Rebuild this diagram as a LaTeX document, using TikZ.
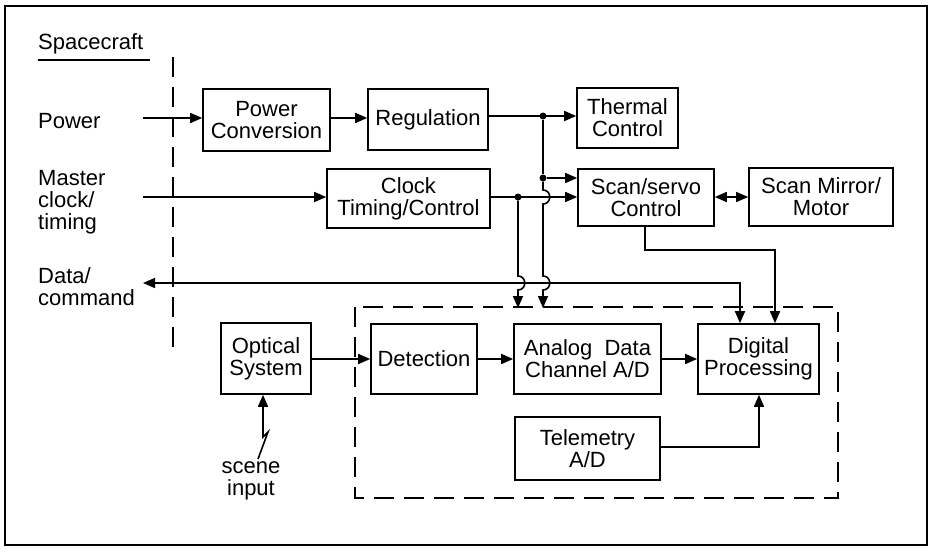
\documentclass[tikz,border=0pt]{standalone}
\usepackage{fontspec}
\setmainfont{Liberation Sans}
\usetikzlibrary{arrows.meta}
\begin{document}
\begin{tikzpicture}[x=1pt,y=-1pt,
  every node/.style={font=\fontsize{22}{22}\selectfont},
  blk/.style={draw,line width=1.6pt,inner sep=0pt,align=center},
  lbl/.style={inner sep=0pt,align=left,anchor=west},
  ln/.style={line width=1.6pt},
  arr/.style={ln,-{Triangle[length=12pt,width=10pt]}},
  darr/.style={ln,{Triangle[length=12pt,width=10pt]}-{Triangle[length=12pt,width=10pt]}},
  dsh/.style={line width=1.6pt,dash pattern=on 20pt off 10pt},
  dot/.style={circle,fill,inner sep=0pt,minimum size=7pt}]
\useasboundingbox (0,0) rectangle (930,552);
% outer frame
\draw[line width=1.3pt] (5,6) rectangle (927,545);
% spacecraft label and boundary
\node[lbl] (sc) at (38,44) {Spacecraft};
\draw[line width=1.6pt] (38,60) -- (150,60);
\draw[dsh] (173,57) -- (173,352);
\node[lbl] (lpow) at (38,121) {Power};
\node[lbl] (lclk) at (38,202) {Master\\clock/\\timing};
\node[lbl] (ldat) at (38,287) {Data/\\command};
% blocks
\node[blk,minimum width=127pt,minimum height=62pt] (pc) at (266.5,120) {Power\\Conversion};
\node[blk,minimum width=120pt,minimum height=61pt] (reg) at (428,119.5) {Regulation};
\node[blk,minimum width=101pt,minimum height=60pt] (therm) at (627.5,118) {Thermal\\Control};
\node[blk,minimum width=163pt,minimum height=59pt] (clock) at (408.5,198.5) {Clock\\Timing/Control};
\node[blk,minimum width=136pt,minimum height=57pt] (scan) at (646,197.5) {Scan/servo\\Control};
\node[blk,minimum width=144pt,minimum height=58pt] (mirror) at (821,197) {Scan Mirror/\\Motor};
\node[blk,minimum width=90pt,minimum height=71pt] (opt) at (266,358.5) {Optical\\System};
\node[blk,minimum width=106pt,minimum height=70pt] (det) at (424,359) {Detection};
\node[blk,minimum width=147pt,minimum height=70pt] (ana) at (587.5,359) {Analog\ \ Data\\Channel A/D};
\node[blk,minimum width=121pt,minimum height=70pt] (dig) at (758.5,359) {Digital\\Processing};
\node[blk,minimum width=145pt,minimum height=63pt] (tel) at (587.5,448.5) {Telemetry\\A/D};
% inner dashed box
\draw[dsh] (355,307) rectangle (838,498);
% free ends and junctions
\coordinate (pin) at (143,118);
\coordinate (cin) at (143,197);
\coordinate (dout) at (143,283);
\node[dot] (j1) at (543,116) {};
\node[dot] (j2) at (543,178) {};
\node[dot] (j3) at (518,197) {};
\coordinate (t1) at (518,308);
\coordinate (t2) at (543,308);
% power chain
\draw[arr] (pin) -- (pin -| pc.west);
\draw[arr] (pc.east |- pin) -- (reg.west |- pin);
\draw[arr] (reg.east |- j1) -- (therm.west |- j1);
\draw[ln] (j1) -- (j2);
\draw[arr] (j2) -- (scan.west |- j2);
\draw[arr] (j2) -- (543,190) .. controls (552,190) and (552,204) .. (543,204)
  -- (543,276) .. controls (552,276) and (552,290) .. (543,290) -- (t2);
% clock chain
\draw[arr] (cin) -- (clock.west |- cin);
\draw[arr] (clock.east |- j3) -- (scan.west |- j3);
\draw[arr] (j3) -- (518,276) .. controls (527,276) and (527,290) .. (518,290) -- (t1);
% scan mirror
\draw[darr] (scan.east |- j3) -- (mirror.west |- j3);
% scan to digital
\draw[arr] (scan.south -| 645,0) -- (645,250) -- (775,250) -- (775,0 |- dig.north);
% data / command
\draw[darr] (dout) -- (740,283) -- (740,0 |- dig.north);
% signal chain
\draw[arr] (opt.east |- det.west) -- (det.west);
\draw[arr] (det.east) -- (ana.west);
\draw[arr] (ana.east) -- (dig.west);
\draw[arr] (tel.east |- 0,447) -- (759,447) -- (759,0 |- dig.south);
% scene input
\node[inner sep=0pt,align=center] (scene) at (251,481) {scene\\input};
\draw[arr] (258,459) -- (268,432) -- (263,437) -- (263,0 |- opt.south);
\end{tikzpicture}
\end{document}
